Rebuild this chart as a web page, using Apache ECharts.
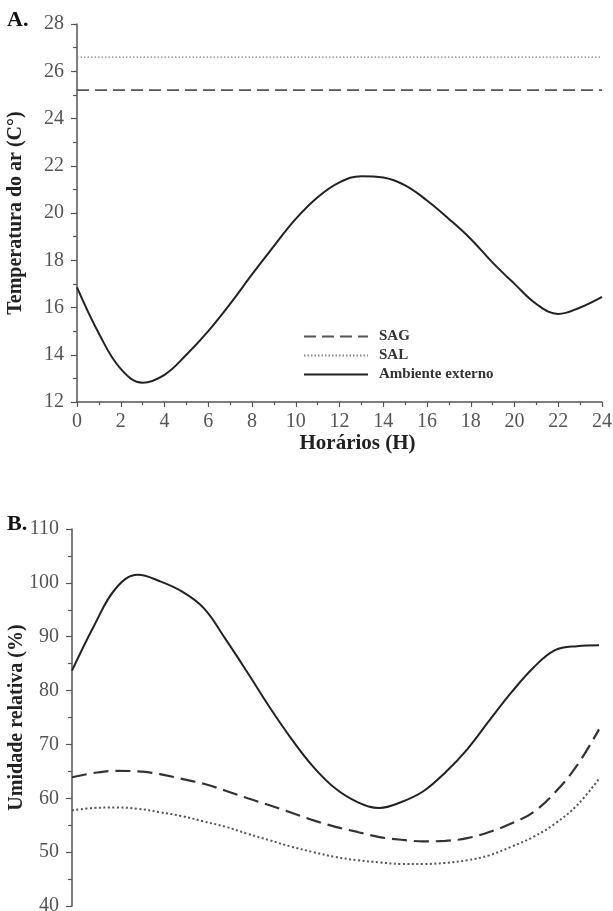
<!DOCTYPE html>
<html>
<head>
<meta charset="utf-8">
<script src="https://cdn.jsdelivr.net/npm/echarts@6/dist/echarts.min.js"></script>
<style>html,body{margin:0;padding:0;background:#fff;}#c{width:613px;height:911px;}</style>
</head>
<body>
<div id="c"></div>
<script>
var hours = [0,1,2,3,4,5,6,7,8,9,10,11,12,13,14,15,16,17,18,19,20,21,22,23,24];
// Panel A: air temperature (°C)
var tempExterno = [16.85,14.9,13.4,12.82,13.15,14.0,15.0,16.15,17.4,18.6,19.75,20.67,21.3,21.56,21.5,21.17,20.53,19.75,18.9,17.9,17.0,16.15,15.73,16.0,16.45];
var tempSAG = 25.2;
var tempSAL = 26.6;
// Panel B: relative humidity (%)
var urExterno = [83.7,92.0,99.0,101.5,100.3,98.4,95.3,89.5,83.3,76.9,71.0,65.8,61.8,59.3,58.2,59.3,61.3,64.8,69.1,74.4,79.6,84.2,87.5,88.25,88.4];
var urSAG = [63.9,64.7,65.1,65.0,64.5,63.6,62.7,61.4,60.0,58.7,57.3,55.9,54.7,53.75,52.8,52.3,52.0,52.1,52.6,53.75,55.3,57.4,61.1,66.1,72.8];
var urSAL = [57.8,58.2,58.3,58.05,57.4,56.7,55.7,54.7,53.4,52.2,51.0,50.0,49.1,48.5,48.1,47.8,47.8,48.0,48.5,49.4,51.0,52.8,55.3,58.7,63.6];
var xTicks = [0,2,4,6,8,10,12,14,16,18,20,22,24];
var yTicksA = [12,14,16,18,20,22,24,26,28];
var yTicksB = [40,50,60,70,80,90,100,110];

function pairs(xs, ys){ return xs.map(function(x,i){ return [x, ys[i]]; }); }
function constPairs(xs, v){ return xs.map(function(x){ return [x, v]; }); }

var FONT = 'Liberation Serif';
var AX = '#555';
function yAxis(idx, min, max, interval, name){
  return {
    type:'value', gridIndex: idx, min:min, max:max, interval:interval,
    name:name, nameLocation:'middle', nameGap: idx===0 ? 51 : 45, nameMoveOverlap:false,
    nameTextStyle:{fontFamily:FONT, fontWeight:'bold', fontSize:20, color:'#222'},
    axisLine:{show:true, lineStyle:{color:AX, width:1.5}},
    axisTick:{show:true, length:6, lineStyle:{color:AX, width:1.2}},
    minorTick:{show:true, splitNumber:2, length:4, lineStyle:{color:AX, width:1.2}},
    axisLabel:{fontFamily:FONT, fontSize:20, color:'#555', margin:13},
    splitLine:{show:false}
  };
}
var option = {
  animation:false,
  backgroundColor:'#fff',
  grid:[
    {left:77, right:11, top:24, bottom:509, containLabel:false, outerBoundsMode:'none'},
    {left:72, right:14, top:529, bottom:5, containLabel:false, outerBoundsMode:'none'}
  ],
  legend:{
    show:true, orient:'vertical', left:298, top:324, itemWidth:64, itemHeight:12, itemGap:4,
    data:['SAG','SAL','Ambiente externo'],
    itemStyle:{opacity:0},
    textStyle:{fontFamily:FONT, fontWeight:'bold', fontSize:15, color:'#333', padding:[0,0,0,6]},
    selectedMode:false
  },
  xAxis:[
    {type:'value', gridIndex:0, min:0, max:24, interval:2,
     name:'Horários (H)', nameLocation:'middle', nameGap:30,
     nameTextStyle:{fontFamily:FONT, fontWeight:'bold', fontSize:21, color:'#222', padding:[0,0,0,36]},
     axisLine:{show:true, lineStyle:{color:AX, width:1.5}},
     axisTick:{show:true, length:5, lineStyle:{color:AX, width:1.2}},
     minorTick:{show:true, splitNumber:2, length:3, lineStyle:{color:AX, width:1.2}},
     axisLabel:{fontFamily:FONT, fontSize:20, color:'#555', margin:10,
       formatter:function(v){ return xTicks.indexOf(v) >= 0 ? String(v) : ''; }},
     splitLine:{show:false}},
    {type:'value', gridIndex:1, min:0, max:24, interval:2, show:false}
  ],
  yAxis:[
    yAxis(0, 12, 28, 2, 'Temperatura do ar (C°)'),
    yAxis(1, 40, 110, 10, 'Umidade relativa (%)')
  ],
  graphic:[
    {type:'text', left:7, top:9, style:{text:'A.', font:'bold 22px "Liberation Serif"', fill:'#111'}},
    {type:'text', left:7, top:513, style:{text:'B.', font:'bold 22px "Liberation Serif"', fill:'#111'}}
  ],
  series:[
    {name:'SAG', type:'line', xAxisIndex:0, yAxisIndex:0, data:constPairs(hours, tempSAG), symbol:'none',
     itemStyle:{color:'#555'}, lineStyle:{color:'#555', width:1.6, type:[12,6]}},
    {name:'SAL', type:'line', xAxisIndex:0, yAxisIndex:0, data:constPairs(hours, tempSAL), symbol:'none',
     itemStyle:{color:'#888'}, lineStyle:{color:'#888', width:1.3, type:[1.5,2]}},
    {name:'Ambiente externo', type:'line', xAxisIndex:0, yAxisIndex:0, data:pairs(hours, tempExterno), symbol:'none', smooth:0.4,
     itemStyle:{color:'#222'}, lineStyle:{color:'#222', width:2}},
    {name:'Ambiente externo', type:'line', xAxisIndex:1, yAxisIndex:1, data:pairs(hours, urExterno), symbol:'none', smooth:0.4,
     itemStyle:{color:'#222'}, lineStyle:{color:'#222', width:2}},
    {name:'SAG', type:'line', xAxisIndex:1, yAxisIndex:1, data:pairs(hours, urSAG), symbol:'none', smooth:0.4,
     itemStyle:{color:'#333'}, lineStyle:{color:'#333', width:2.2, type:[15,7]}},
    {name:'SAL', type:'line', xAxisIndex:1, yAxisIndex:1, data:pairs(hours, urSAL), symbol:'none', smooth:0.4,
     itemStyle:{color:'#555'}, lineStyle:{color:'#555', width:2, type:[2,2.5]}}
  ]
};
var chart = echarts.init(document.getElementById('c'), null, {renderer:'canvas'});
chart.setOption(option);
</script>
</body>
</html>
